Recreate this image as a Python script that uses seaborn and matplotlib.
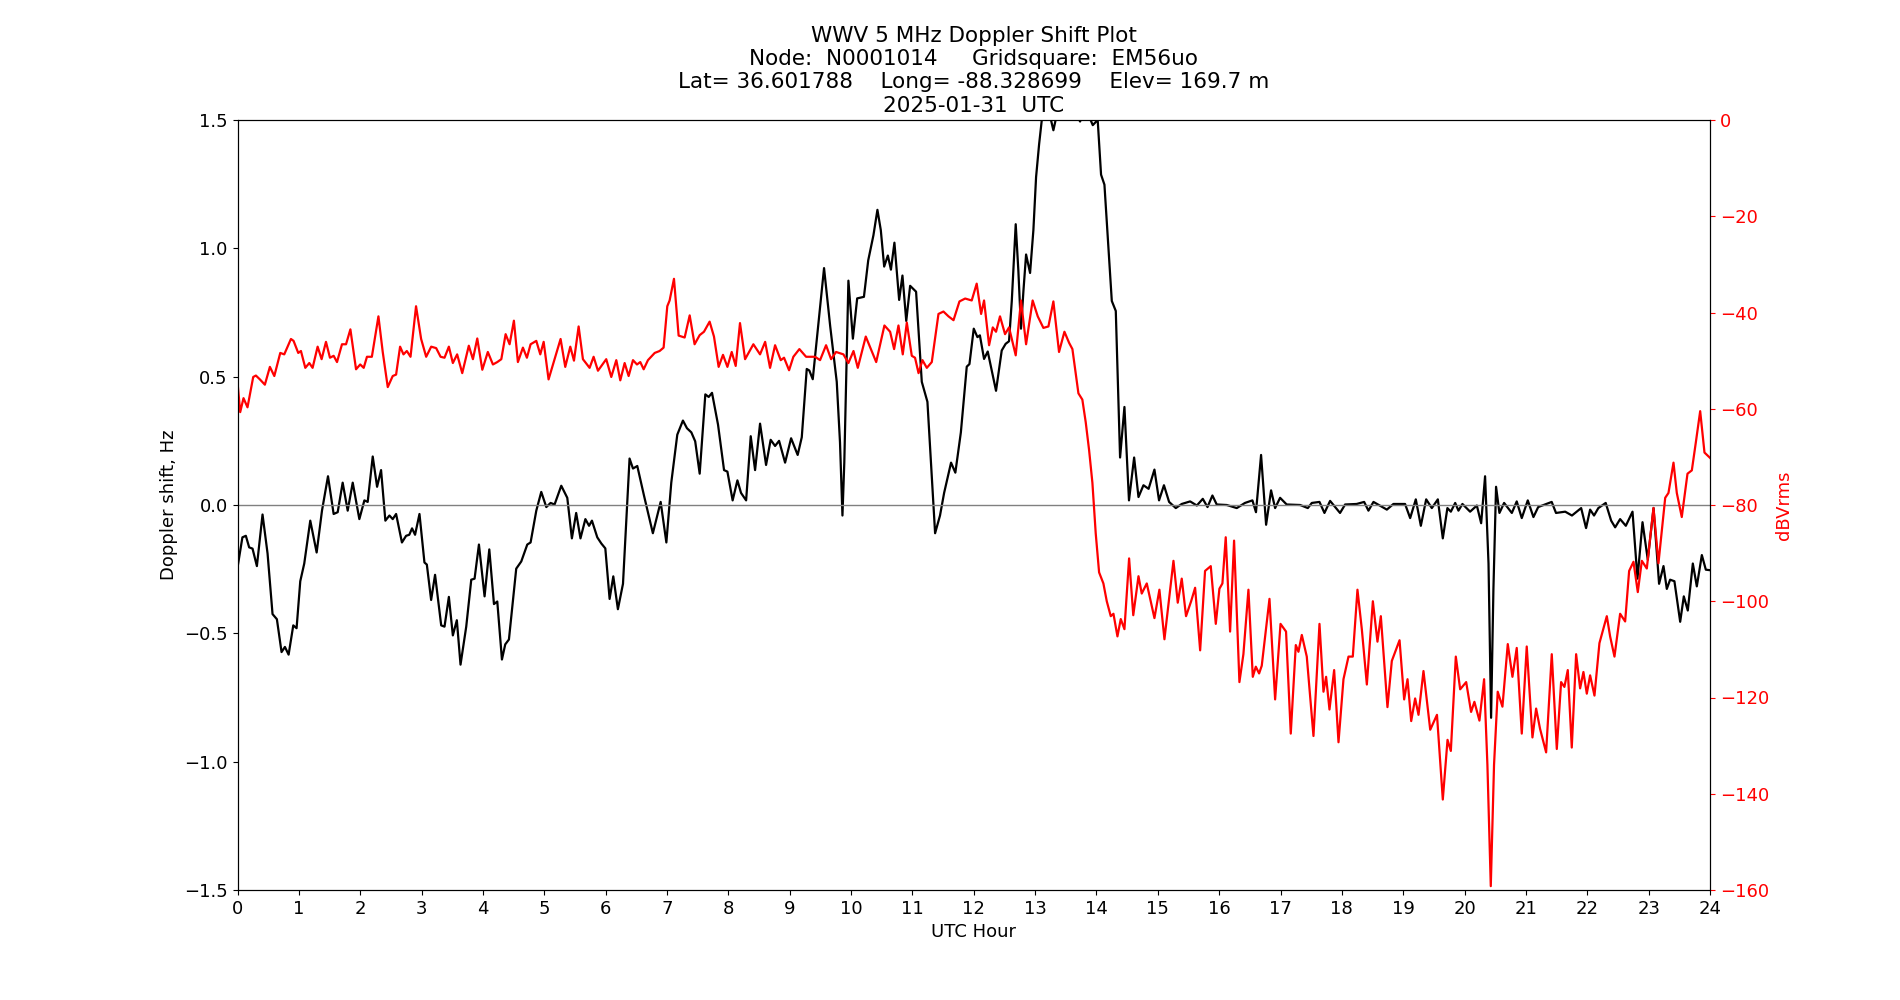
import numpy as np
import pandas as pd
import matplotlib
matplotlib.use('Agg')
import matplotlib.pyplot as plt
import seaborn as sns

# Doppler shift trace (UTC hour, Hz)
doppler_hours = [
    0.0, 0.08, 0.136, 0.19, 0.245, 0.316, 0.408, 0.49, 0.571, 0.642, 0.718, 0.773, 0.833, 0.909, 0.963,
    1.023, 1.088, 1.186, 1.29, 1.377, 1.475, 1.567, 1.633, 1.714, 1.796, 1.878, 1.986, 2.068, 2.122,
    2.204, 2.275, 2.34, 2.41, 2.476, 2.53, 2.585, 2.68, 2.748, 2.80, 2.845, 2.894, 2.966, 3.047, 3.086,
    3.156, 3.22, 3.32, 3.374, 3.445, 3.51, 3.575, 3.635, 3.728, 3.81, 3.864, 3.935, 4.027, 4.104, 4.18,
    4.234, 4.31, 4.364, 4.424, 4.543, 4.625, 4.723, 4.777, 4.87, 4.951, 5.033, 5.103, 5.168, 5.277,
    5.375, 5.45, 5.52, 5.59, 5.67, 5.73, 5.777, 5.864, 5.93, 5.995, 6.065, 6.125, 6.2, 6.283, 6.39,
    6.446, 6.516, 6.625, 6.77, 6.897, 6.99, 7.07, 7.168, 7.26, 7.326, 7.397, 7.46, 7.533, 7.625, 7.68,
    7.734, 7.832, 7.93, 7.985, 8.07, 8.148, 8.207, 8.29, 8.365, 8.436, 8.517, 8.615, 8.69, 8.762,
    8.827, 8.925, 9.023, 9.13, 9.197, 9.278, 9.32, 9.376, 9.56, 9.66, 9.767, 9.82, 9.86, 9.89, 9.957,
    10.03, 10.1, 10.21, 10.28, 10.365, 10.43, 10.485, 10.54, 10.6, 10.65, 10.707, 10.784, 10.838,
    10.9, 10.963, 11.06, 11.153, 11.245, 11.37, 11.45, 11.517, 11.63, 11.7, 11.79, 11.886, 11.93,
    12.0, 12.06, 12.1, 12.168, 12.228, 12.363, 12.456, 12.52, 12.575, 12.62, 12.684, 12.727, 12.77,
    12.81, 12.853, 12.918, 12.972, 13.016, 13.065, 13.12, 13.2, 13.298, 13.38, 13.55, 13.733, 13.815,
    13.94, 14.02, 14.075, 14.13, 14.25, 14.315, 14.385, 14.456, 14.53, 14.614, 14.685, 14.766, 14.85,
    14.945, 15.02, 15.1, 15.184, 15.293, 15.39, 15.527, 15.636, 15.733, 15.81, 15.89, 15.96, 16.124,
    16.287, 16.42, 16.542, 16.6, 16.683, 16.765, 16.846, 16.912, 16.993, 17.1, 17.32, 17.445, 17.51,
    17.635, 17.716, 17.808, 17.97, 18.053, 18.24, 18.363, 18.433, 18.515, 18.733, 18.84, 19.03,
    19.113, 19.205, 19.287, 19.374, 19.466, 19.564, 19.645, 19.72, 19.776, 19.847, 19.9, 19.965,
    20.09, 20.2, 20.27, 20.334, 20.39, 20.432, 20.47, 20.513, 20.568, 20.644, 20.77, 20.85, 20.932,
    21.03, 21.122, 21.2, 21.42, 21.49, 21.64, 21.75, 21.9, 21.98, 22.046, 22.11, 22.18, 22.3, 22.389,
    22.454, 22.535, 22.628, 22.737, 22.818, 22.9, 22.986, 23.08, 23.17, 23.242, 23.296, 23.35, 23.42,
    23.514, 23.573, 23.638, 23.72, 23.785, 23.867, 23.932, 24.0,
]
doppler_hz = [
    -0.244, -0.126, -0.12, -0.165, -0.17, -0.238, -0.037, -0.189, -0.425, -0.445, -0.573, -0.553, -0.583, -0.469, -0.48,
    -0.297, -0.228, -0.061, -0.185, -0.022, 0.112, -0.035, -0.028, 0.087, -0.022, 0.087, -0.055, 0.018, 0.012,
    0.189, 0.071, 0.136, -0.061, -0.041, -0.055, -0.035, -0.146, -0.12, -0.116, -0.091, -0.116, -0.035, -0.224, -0.232,
    -0.37, -0.272, -0.469, -0.474, -0.358, -0.508, -0.449, -0.622, -0.474, -0.291, -0.287, -0.154, -0.356, -0.173, -0.386,
    -0.376, -0.602, -0.543, -0.524, -0.248, -0.22, -0.154, -0.146, -0.022, 0.051, -0.008, 0.008, 0.002, 0.075,
    0.028, -0.13, -0.031, -0.13, -0.055, -0.081, -0.061, -0.126, -0.15, -0.169, -0.366, -0.278, -0.406, -0.307, 0.181,
    0.142, 0.152, 0.037, -0.11, 0.012, -0.146, 0.087, 0.274, 0.329, 0.299, 0.283, 0.248, 0.122, 0.431, 0.421,
    0.437, 0.313, 0.136, 0.13, 0.018, 0.096, 0.047, 0.018, 0.268, 0.136, 0.317, 0.156, 0.254, 0.23,
    0.25, 0.165, 0.26, 0.195, 0.264, 0.53, 0.524, 0.49, 0.923, 0.697, 0.48, 0.244, -0.041, 0.165, 0.874,
    0.648, 0.805, 0.811, 0.953, 1.051, 1.15, 1.071, 0.929, 0.972, 0.917, 1.022, 0.799, 0.894,
    0.717, 0.854, 0.831, 0.48, 0.402, -0.11, -0.041, 0.047, 0.165, 0.126, 0.283, 0.539, 0.549,
    0.687, 0.654, 0.661, 0.569, 0.598, 0.445, 0.602, 0.628, 0.638, 0.795, 1.094, 0.913, 0.687,
    0.835, 0.976, 0.904, 1.071, 1.278, 1.405, 1.524, 1.56, 1.46, 1.55, 1.58, 1.494, 1.55,
    1.48, 1.5, 1.287, 1.248, 0.795, 0.756, 0.185, 0.382, 0.018, 0.185, 0.031, 0.077, 0.063,
    0.138, 0.018, 0.077, 0.012, -0.012, 0.004, 0.014, -0.002, 0.024, -0.008, 0.037, 0.002, 0.0,
    -0.012, 0.008, 0.018, -0.028, 0.195, -0.077, 0.057, -0.012, 0.028, 0.002, 0.0, -0.012, 0.008,
    0.012, -0.031, 0.016, -0.031, 0.002, 0.004, 0.012, -0.022, 0.012, -0.018, 0.004, 0.004,
    -0.051, 0.022, -0.081, 0.022, -0.012, 0.022, -0.13, -0.012, -0.026, 0.008, -0.022, 0.004,
    -0.026, -0.002, -0.071, 0.112, -0.228, -0.829, -0.327, 0.071, -0.031, 0.008, -0.031, 0.014, -0.051,
    0.018, -0.047, -0.008, 0.012, -0.031, -0.026, -0.041, -0.012, -0.09, -0.018, -0.041, -0.012, 0.008, -0.061,
    -0.087, -0.055, -0.081, -0.026, -0.287, -0.067, -0.213, -0.012, -0.307, -0.238, -0.327, -0.291, -0.297,
    -0.455, -0.356, -0.411, -0.228, -0.317, -0.195, -0.252, -0.254,
]

# Received power trace (UTC hour, dBVrms)
power_hours = [
    0.0, 0.044, 0.098, 0.163, 0.256, 0.3, 0.365, 0.446, 0.528, 0.6, 0.697, 0.762, 0.871, 0.914, 0.99,
    1.034, 1.105, 1.17, 1.224, 1.306, 1.371, 1.442, 1.507, 1.567, 1.622, 1.703, 1.769, 1.84, 1.932,
    2.0, 2.057, 2.11, 2.19, 2.297, 2.367, 2.449, 2.53, 2.585, 2.65, 2.705, 2.76, 2.82, 2.91, 2.993,
    3.075, 3.157, 3.238, 3.31, 3.374, 3.445, 3.51, 3.58, 3.663, 3.77, 3.837, 3.908, 3.99, 4.08, 4.163,
    4.234, 4.3, 4.37, 4.435, 4.505, 4.57, 4.652, 4.717, 4.777, 4.87, 4.935, 4.99, 5.07, 5.168, 5.266,
    5.342, 5.424, 5.484, 5.56, 5.63, 5.739, 5.804, 5.875, 6.01, 6.092, 6.174, 6.239, 6.31, 6.375,
    6.446, 6.511, 6.565, 6.62, 6.69, 6.8, 6.88, 6.945, 7.005, 7.043, 7.114, 7.19, 7.288, 7.37, 7.45,
    7.533, 7.603, 7.695, 7.766, 7.842, 7.913, 7.985, 8.055, 8.12, 8.19, 8.273, 8.408, 8.517, 8.6,
    8.68, 8.762, 8.854, 8.908, 8.99, 9.06, 9.158, 9.267, 9.414, 9.495, 9.593, 9.675, 9.756, 9.876,
    9.957, 10.04, 10.11, 10.24, 10.41, 10.544, 10.637, 10.702, 10.773, 10.843, 10.909, 10.99, 11.043,
    11.1, 11.164, 11.235, 11.316, 11.425, 11.506, 11.588, 11.67, 11.767, 11.86, 11.967, 12.048,
    12.12, 12.168, 12.25, 12.31, 12.363, 12.428, 12.51, 12.575, 12.684, 12.77, 12.853, 12.96, 13.043,
    13.135, 13.217, 13.298, 13.39, 13.478, 13.554, 13.608, 13.706, 13.77, 13.825, 13.88, 13.934,
    13.988, 14.043, 14.113, 14.168, 14.233, 14.277, 14.342, 14.396, 14.456, 14.532, 14.6, 14.685,
    14.738, 14.82, 14.945, 15.026, 15.108, 15.255, 15.325, 15.39, 15.46, 15.543, 15.608, 15.69, 15.77,
    15.863, 15.945, 16.004, 16.053, 16.107, 16.178, 16.243, 16.33, 16.395, 16.477, 16.548, 16.597,
    16.651, 16.694, 16.82, 16.912, 17.0, 17.09, 17.167, 17.249, 17.292, 17.347, 17.428, 17.537,
    17.635, 17.7, 17.743, 17.798, 17.874, 17.945, 18.026, 18.108, 18.178, 18.254, 18.325, 18.407,
    18.505, 18.58, 18.635, 18.743, 18.814, 18.94, 19.015, 19.07, 19.13, 19.194, 19.249, 19.33, 19.44,
    19.55, 19.645, 19.722, 19.776, 19.857, 19.928, 20.026, 20.106, 20.16, 20.242, 20.318, 20.372,
    20.427, 20.48, 20.54, 20.617, 20.704, 20.78, 20.85, 20.932, 21.013, 21.106, 21.166, 21.23, 21.329,
    21.421, 21.503, 21.573, 21.627, 21.682, 21.747, 21.818, 21.883, 21.937, 21.992, 22.046, 22.117,
    22.198, 22.318, 22.372, 22.443, 22.535, 22.617, 22.682, 22.753, 22.823, 22.889, 22.97, 23.079,
    23.16, 23.27, 23.323, 23.405, 23.459, 23.54, 23.633, 23.704, 23.769, 23.84, 23.91, 24.0,
]
power_db = [
    -54.5, -60.7, -57.8, -59.7, -53.4, -53.1, -53.9, -55.0, -51.3, -53.2, -48.4, -48.7, -45.5, -45.9, -48.4,
    -48.0, -51.5, -50.5, -51.5, -47.1, -49.7, -46.1, -49.4, -49.0, -50.3, -46.6, -46.6, -43.5, -51.8,
    -50.8, -51.5, -49.2, -49.2, -40.8, -48.2, -55.5, -53.2, -52.9, -47.1, -48.7, -48.0, -49.2, -38.7, -45.5,
    -49.2, -47.1, -47.4, -49.2, -49.4, -47.1, -50.5, -48.7, -52.6, -46.9, -49.7, -45.4, -51.9, -48.2, -50.8,
    -50.3, -49.7, -44.5, -46.6, -41.7, -50.3, -47.3, -49.4, -46.6, -45.9, -48.7, -46.1, -53.9, -49.7, -45.5,
    -51.3, -47.1, -50.0, -42.9, -49.7, -51.5, -49.2, -52.1, -49.7, -53.4, -49.9, -54.1, -50.5, -53.2,
    -49.9, -50.8, -50.3, -51.8, -49.9, -48.4, -48.0, -47.3, -38.7, -37.5, -33.0, -44.8, -45.2, -40.6, -46.6,
    -44.7, -44.0, -41.9, -45.0, -51.3, -48.8, -51.3, -48.2, -51.1, -42.2, -49.7, -46.6, -48.7, -46.1,
    -51.5, -46.8, -49.9, -49.4, -52.0, -49.2, -47.6, -49.2, -49.2, -49.9, -46.8, -49.7, -48.2, -48.7,
    -50.5, -48.0, -51.5, -45.0, -50.3, -42.7, -44.0, -47.6, -42.7, -48.7, -42.1, -49.0, -49.4,
    -52.6, -49.9, -51.5, -50.3, -40.3, -39.8, -40.8, -41.6, -37.7, -37.1, -37.5, -34.0,
    -40.3, -37.5, -46.8, -43.1, -44.0, -40.8, -44.5, -43.1, -48.9, -37.5, -46.6, -37.5, -40.8,
    -43.2, -42.9, -37.7, -48.2, -44.0, -46.3, -47.6, -56.8, -58.1, -62.8, -68.6, -75.4,
    -85.9, -94.0, -96.3, -100.0, -103.1, -102.6, -107.3, -103.7, -105.8, -91.1, -102.9, -94.8,
    -98.4, -96.3, -103.5, -97.6, -107.9, -91.6, -100.3, -95.3, -103.1, -100.0, -97.2, -110.2, -93.7,
    -92.7, -104.7, -97.4, -96.3, -86.7, -106.3, -87.4, -116.8, -111.0, -97.6, -115.7, -113.6,
    -115.0, -113.4, -99.5, -120.4, -104.7, -106.3, -127.5, -109.1, -110.5, -107.0, -111.5, -128.0,
    -104.7, -118.8, -115.7, -122.5, -114.3, -129.3, -116.2, -111.5, -111.5, -97.6, -105.8, -117.3,
    -100.0, -108.4, -103.1, -122.0, -112.4, -108.1, -120.4, -116.2, -124.9, -120.2, -123.6, -114.5, -126.7,
    -123.6, -141.2, -128.8, -131.1, -111.5, -118.3, -116.8, -123.0, -120.9, -124.8, -116.2, -134.0,
    -159.2, -134.0, -118.8, -121.9, -108.9, -115.7, -109.7, -127.5, -109.4, -128.3, -122.3, -126.5, -131.4,
    -111.0, -130.7, -116.8, -117.8, -114.3, -130.4, -111.0, -118.1, -114.7, -119.2, -115.4, -119.6,
    -108.7, -103.1, -107.3, -111.5, -102.6, -104.2, -93.7, -91.8, -98.1, -91.6, -93.2, -80.6,
    -92.1, -78.5, -77.5, -71.2, -77.5, -82.5, -73.5, -72.8, -67.0, -60.5, -69.1, -70.2,
]

title_lines = [
    'WWV 5 MHz Doppler Shift Plot',
    'Node:  N0001014     Gridsquare:  EM56uo',
    'Lat= 36.601788    Long= -88.328699    Elev= 169.7 m',
    '2025-01-31  UTC',
]

doppler_df = pd.DataFrame({'hour': doppler_hours, 'shift': doppler_hz})
power_df = pd.DataFrame({'hour': power_hours, 'power': power_db})

plt.rcParams['font.family'] = ['DejaVu Sans']

fig, ax = plt.subplots(figsize=(19, 10), dpi=100)

# Doppler shift on the left axis
sns.lineplot(data=doppler_df, x='hour', y='shift', color='black', linewidth=1.6,
             estimator=None, sort=False, ax=ax)
ax.axhline(0, color='grey', linewidth=1)
ax.set_xlim(0, 24)
ax.set_ylim(-1.5, 1.5)
ax.set_xticks(np.arange(0, 25, 1))
ax.set_yticks(np.arange(-1.5, 1.51, 0.5))
ax.set_xlabel('UTC Hour', fontsize=13)
ax.set_ylabel('Doppler shift, Hz', fontsize=13)
ax.tick_params(axis='both', labelsize=13)
ax.set_title('\n'.join(title_lines), fontsize=15.5)

# Received power on the right axis
ax2 = ax.twinx()
sns.lineplot(data=power_df, x='hour', y='power', color='red', linewidth=1.6,
             estimator=None, sort=False, ax=ax2)
ax2.set_ylim(-160, 0)
ax2.set_yticks(np.arange(-160, 1, 20))
ax2.set_ylabel('dBVrms', color='red', fontsize=13)
ax2.tick_params(axis='y', colors='red', labelsize=13)
ax2.spines['right'].set_color('black')
ax2.set_xlim(0, 24)

fig.savefig('out.png', dpi=100)
